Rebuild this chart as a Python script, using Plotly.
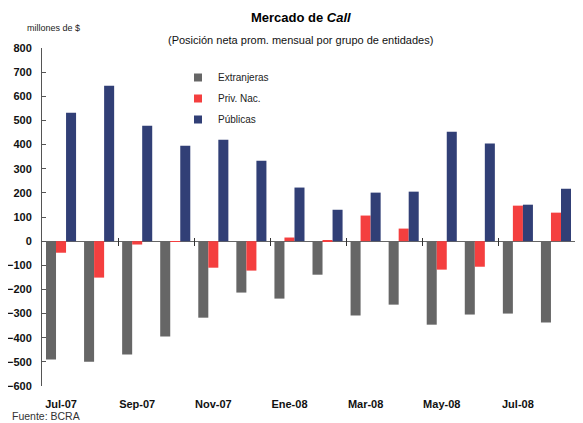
import plotly.graph_objects as go

months = ["Jul-07", "Ago-07", "Sep-07", "Oct-07", "Nov-07", "Dic-07", "Ene-08",
          "Feb-08", "Mar-08", "Abr-08", "May-08", "Jun-08", "Jul-08", "Ago-08"]
extranjeras = [-490, -500, -470, -395, -317, -213, -238, -139, -308, -263, -346, -304, -300, -337]
priv_nac = [-48, -151, -14, -3, -110, -122, 15, 3, 106, 52, -118, -106, 147, 118]
publicas = [532, 644, 478, 395, 420, 333, 222, 130, 201, 205, 453, 404, 151, 217]

y_ticks = list(range(-600, 801, 100))

# the page body adds an 8px margin (and the page scrolls a little),
# so the figure is drawn smaller and reference pixels are shifted by OFF
OFF = 8
W, H = 583 - 2 * OFF, 423 - OFF
M = dict(l=42 - OFF, r=0, t=48 - OFF, b=H - (386 - OFF))
Y_MIN, Y_MAX = -600, 800
FONT = "Liberation Sans, Arial, sans-serif"

plot_w = W - M["l"] - M["r"]
plot_h = H - M["t"] - M["b"]


def px_x(p):
    return (p - OFF - M["l"]) / plot_w


def px_y(p):
    return (H - M["b"] - (p - OFF)) / plot_h


x = list(range(len(months)))
series = [
    ("Extranjeras", extranjeras, "#666666"),
    ("Priv. Nac.", priv_nac, "#F43F3F"),
    ("Públicas", publicas, "#313F76"),
]

fig = go.Figure()
for name, vals, color in series:
    fig.add_trace(go.Bar(x=x, y=vals, name=name, marker_color=color,
                         marker_line_width=0, showlegend=False))
# small square legend swatches
for i, (name, vals, color) in enumerate(series):
    fig.add_trace(go.Scatter(x=[None], y=[None], mode="markers", name=name,
                             marker=dict(symbol="square", size=8, color=color),
                             legendgroup=str(i)))

# zero line position (paper), shifted so the ticks cross it
zero_frac = (0 - Y_MIN) / (Y_MAX - Y_MIN)
tick_half = 4

fig.update_layout(
    width=W, height=H,
    margin=M,
    paper_bgcolor="white", plot_bgcolor="white",
    barmode="group", bargap=0.21, bargroupgap=0,
    font=dict(family=FONT, color="#000000"),
    showlegend=True,
    legend=dict(x=px_x(178), y=px_y(63), xanchor="left", yanchor="top",
                font=dict(family=FONT, size=10, color="#222222"),
                bgcolor="rgba(0,0,0,0)", tracegroupgap=2, itemwidth=30),
    xaxis=dict(range=[-0.5, len(months) - 0.5], showline=False, showgrid=False,
               zeroline=False, ticks="", tickmode="array", automargin=False,
               tickvals=x[::2], ticktext=months[::2], ticklabelstandoff=10,
               tickfont=dict(size=11, weight="bold", color="#111111")),
    xaxis2=dict(overlaying="x", anchor="free",
                position=zero_frac + tick_half / plot_h, automargin=False,
                range=[-0.5, len(months) - 0.5], showline=False, showgrid=False,
                zeroline=False, ticks="outside", ticklen=2 * tick_half,
                tickcolor="#333333", tickwidth=1, tickmode="array",
                tickvals=[v + 0.5 for v in x[1:-1:2]], showticklabels=False),
    yaxis=dict(range=[Y_MIN, Y_MAX], tickmode="array", tickvals=y_ticks,
               showline=True, linecolor="#555555", linewidth=1, automargin=False,
               ticks="inside", ticklen=4, tickcolor="#555555",
               ticklabelstandoff=7,
               showgrid=False, zeroline=True, zerolinecolor="#666666",
               zerolinewidth=1,
               tickfont=dict(size=11, weight="bold", color="#111111")),
    annotations=[
        dict(text="<b>Mercado de <i>Call</i></b>", xref="paper", yref="paper",
             x=px_x(301), y=px_y(17), xanchor="center", yanchor="middle",
             showarrow=False, font=dict(family=FONT, size=13, color="#000000")),
        dict(text="(Posición neta prom. mensual por grupo de entidades)",
             xref="paper", yref="paper", x=px_x(300), y=px_y(40),
             xanchor="center", yanchor="middle", showarrow=False,
             font=dict(family=FONT, size=11, color="#111111")),
        dict(text="millones de $", xref="paper", yref="paper",
             x=px_x(25), y=px_y(28), xanchor="left", yanchor="middle",
             showarrow=False, font=dict(family=FONT, size=9, color="#222222")),
        dict(text="Fuente: BCRA", xref="paper", yref="paper",
             x=px_x(10), y=px_y(416), xanchor="left", yanchor="middle",
             showarrow=False, font=dict(family=FONT, size=10.5, color="#333333")),
    ],
)

# invisible point so the overlay axis is drawn
fig.add_trace(go.Scatter(x=[0], y=[0], xaxis="x2", mode="markers",
                         marker=dict(opacity=0), showlegend=False, hoverinfo="skip"))

fig.write_html("out.html")
